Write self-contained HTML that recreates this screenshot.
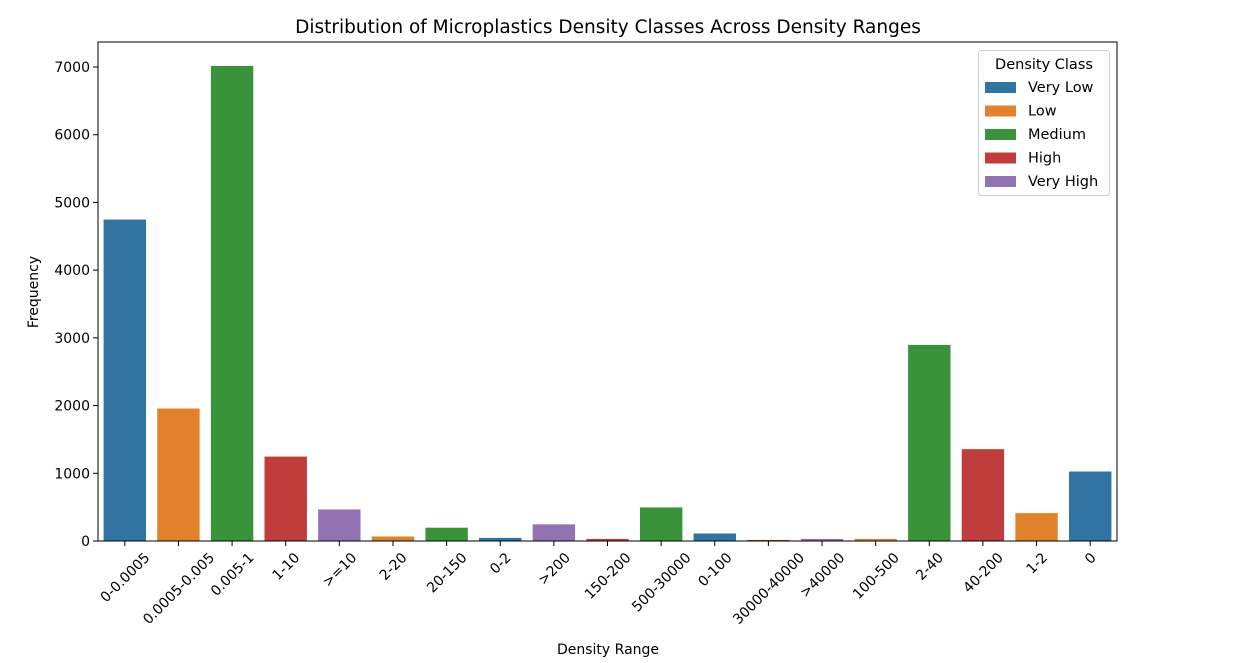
<!DOCTYPE html>
<html><head><meta charset="utf-8"><style>
body{margin:0;background:#fff;font-family:"Liberation Sans","DejaVu Sans",sans-serif;}
svg text{font-family:"DejaVu Sans","Liberation Sans",sans-serif;fill:#000}
</style></head><body>
<svg id="chart" width="1245" height="658" xmlns="http://www.w3.org/2000/svg"></svg>
<script>
const categories=["0-0.0005","0.0005-0.005","0.005-1","1-10",">=10","2-20","20-150","0-2",">200","150-200","500-30000","0-100","30000-40000",">40000","100-500","2-40","40-200","1-2","0"];
const values=[4750,1960,7020,1250,470,70,200,50,250,35,500,115,20,35,35,2900,1360,415,1030];
const classes=["Very Low","Low","Medium","High","Very High","Low","Medium","Very Low","Very High","High","Medium","Very Low","High","Very High","Low","Medium","High","Low","Very Low"];
const legendLabels=["Very Low","Low","Medium","High","Very High"];
const yTicks=[0,1000,2000,3000,4000,5000,6000,7000];
const colors={"Very Low":"#3274a1","Low":"#e1812c","Medium":"#3a923a","High":"#c03d3e","Very High":"#9372b2"};
const NS="http://www.w3.org/2000/svg";
const svg=document.getElementById('chart');
const L=98,R=1117,T=42,B=541;
const step=(R-L)/categories.length;
const x=i=>L+step*(i+0.5);
const y=v=>B-v*(B-67)/7000;
function mk(tag,attrs,parent){const e=document.createElementNS(NS,tag);for(const k in attrs)e.setAttribute(k,attrs[k]);(parent||svg).appendChild(e);return e;}
let t=mk('text',{x:608,y:33,'text-anchor':'middle','font-size':18.5});t.textContent="Distribution of Microplastics Density Classes Across Density Ranges";


values.forEach((v,i)=>{const r=mk('rect',{x:x(i)-step*0.4,y:y(v),width:step*0.8,height:B-y(v),fill:colors[classes[i]],stroke:'#fff','stroke-width':0.5});

});
yTicks.forEach(v=>{mk('line',{x1:L-5,x2:L,y1:y(v),y2:y(v),stroke:'#000'});
const tt=mk('text',{x:L-8,y:y(v)+5,'text-anchor':'end','font-size':14});tt.textContent=v;

});
categories.forEach((c,i)=>{mk('line',{x1:x(i),x2:x(i),y1:B,y2:B+5,stroke:'#000'});
const tt=mk('text',{x:x(i),y:0,'text-anchor':'middle','font-size':14});tt.textContent=c;
const w=tt.getComputedTextLength();
const h=14;
const cy=B+9+(w+h)*0.7071/2;
tt.setAttribute('y',cy+5);
tt.setAttribute('transform',`rotate(-45 ${x(i)} ${cy})`);

});
mk('rect',{x:L,y:T,width:R-L,height:B-T,fill:'none',stroke:'#000','stroke-width':1});
t=mk('text',{x:608,y:654,'text-anchor':'middle','font-size':14});t.textContent="Density Range";


t=mk('text',{x:38,y:292,'text-anchor':'middle','font-size':14,transform:'rotate(-90 38 292)'});t.textContent="Frequency";


const lg=mk('g',{});


mk('rect',{x:978.5,y:50.5,width:131,height:145,fill:'#fff',stroke:'#ccc',rx:3},lg);
t=mk('text',{x:1044,y:69,'text-anchor':'middle','font-size':14.5},lg);t.textContent="Density Class";
legendLabels.forEach((l,i)=>{const yy=87+i*23.5;
mk('rect',{x:985,y:yy-5,width:31,height:11,fill:colors[l]},lg);
const tt=mk('text',{x:1028,y:yy+5,'font-size':14.5},lg);tt.textContent=l;

});
</script>
</body></html>
